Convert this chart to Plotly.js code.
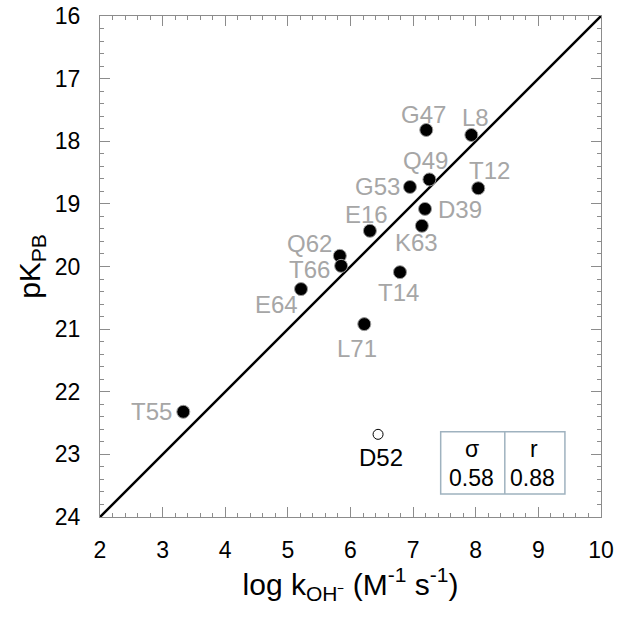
<!DOCTYPE html>
<html>
<head>
<meta charset="utf-8">
<script src="https://cdn.plot.ly/plotly-3.0.1.min.js"></script>
<style>html,body{margin:0;padding:0;background:#fff;}#chart{width:624px;height:619px;}</style>
</head>
<body>
<div id="chart"></div>
<script>
// Data
var residues = ["G47","L8","Q49","G53","T12","D39","K63","E16","Q62","T66","T14","E64","L71","T55"];
var logKOH   = [7.21, 7.93, 7.26, 6.95, 8.04, 7.19, 7.14, 6.31, 5.83, 5.85, 6.79, 5.21, 6.22, 3.33];
var pKPB     = [17.82,17.90,18.61,18.73,18.75,19.08,19.35,19.43,19.83,19.99,20.09,20.36,20.92,22.32];
var outlierName = ["D52"];
var outlierX = [6.44];
var outlierY = [22.68];
var fitX = [2, 10];
var fitY = [24, 16];
var statHeaders = ["σ", "r"];
var statValues = ["0.58", "0.88"];

// label offsets in pixels (dx right, dy down)
var labelDx = [-3, 4, -4, -32, 11, 35, -5, -3, -30, -32, -1, -25, -7, -32];
var labelDy = [-15, -17, -19, 0, -18, 1, 17, -16, -12, 4, 20, 15, 24, 0];
var outlierDx = [3], outlierDy = [23];

var font = "Liberation Sans, Arial, sans-serif";
var traces = [
  {x: fitX, y: fitY, mode: "lines", line: {color: "#000", width: 2.5}, hoverinfo: "skip"},
  {x: logKOH, y: pKPB, mode: "markers", marker: {size: 13, color: "#000", line: {color: "#9a9a9a", width: 1}}},
  {x: outlierX, y: outlierY, mode: "markers", marker: {size: 10, color: "#fff", line: {color: "#000", width: 1}}}
];

var ann = [];
residues.forEach(function (r, i) {
  ann.push({x: logKOH[i], y: pKPB[i], text: r, showarrow: false, xanchor: "center", yanchor: "middle",
    xshift: labelDx[i], yshift: -labelDy[i],
    font: {family: font, size: 24, color: "#a6a6a6"}});
});
outlierName.forEach(function (r, i) {
  ann.push({x: outlierX[i], y: outlierY[i], text: r, showarrow: false, xanchor: "center", yanchor: "middle",
    xshift: outlierDx[i], yshift: -outlierDy[i],
    font: {family: font, size: 24, color: "#000"}});
});
// stats table
var colX = [0.7435, 0.8665];
var valX = [0.7415, 0.8640];
statHeaders.forEach(function (h, i) {
  ann.push({xref: "paper", yref: "paper", x: colX[i], y: 0.136, text: h, showarrow: false,
    xanchor: "center", yanchor: "middle", font: {family: font, size: 23, color: "#000"}});
  ann.push({xref: "paper", yref: "paper", x: valX[i], y: 0.077, text: statValues[i], showarrow: false,
    xanchor: "center", yanchor: "middle", font: {family: font, size: 23, color: "#000"}});
});

var axisCommon = {
  showgrid: false, zeroline: false, showline: true, linecolor: "#8c8c8c", linewidth: 1, mirror: "allticks",
  ticks: "inside", ticklen: 10, tickwidth: 1, tickcolor: "#8c8c8c", dtick: 1,
  tickfont: {family: font, size: 23, color: "#000"},
  minor: {dtick: 0.2, ticks: "inside", ticklen: 4, tickwidth: 1, tickcolor: "#8c8c8c"}
};

var layout = {
  width: 624, height: 619,
  margin: {l: 100, r: 23, t: 16, b: 102},
  paper_bgcolor: "#fff", plot_bgcolor: "#fff",
  showlegend: false,
  xaxis: Object.assign({}, axisCommon, {
    range: [2, 10], tick0: 2, ticklabelstandoff: 12,
    title: {text: "log k<sub>OH⁻</sub> (M<sup>-1</sup> s<sup>-1</sup>)", font: {family: font, size: 30, color: "#000"}, standoff: 12}
  }),
  yaxis: Object.assign({}, axisCommon, {
    range: [24, 16], tick0: 16, ticklabelstandoff: 14,
    title: {text: "pK<sub>PB</sub>", font: {family: font, size: 30, color: "#000"}, standoff: 5}
  }),
  shapes: [
    {type: "rect", xref: "paper", yref: "paper", x0: 0.68, x1: 0.928, y0: 0.046, y1: 0.170, line: {color: "#9fb2bf", width: 1.5}},
    {type: "line", xref: "paper", yref: "paper", x0: 0.808, x1: 0.808, y0: 0.046, y1: 0.170, line: {color: "#9fb2bf", width: 1.5}}
  ],
  annotations: ann
};

Plotly.newPlot("chart", traces, layout, {staticPlot: true, displayModeBar: false});
</script>
</body>
</html>
